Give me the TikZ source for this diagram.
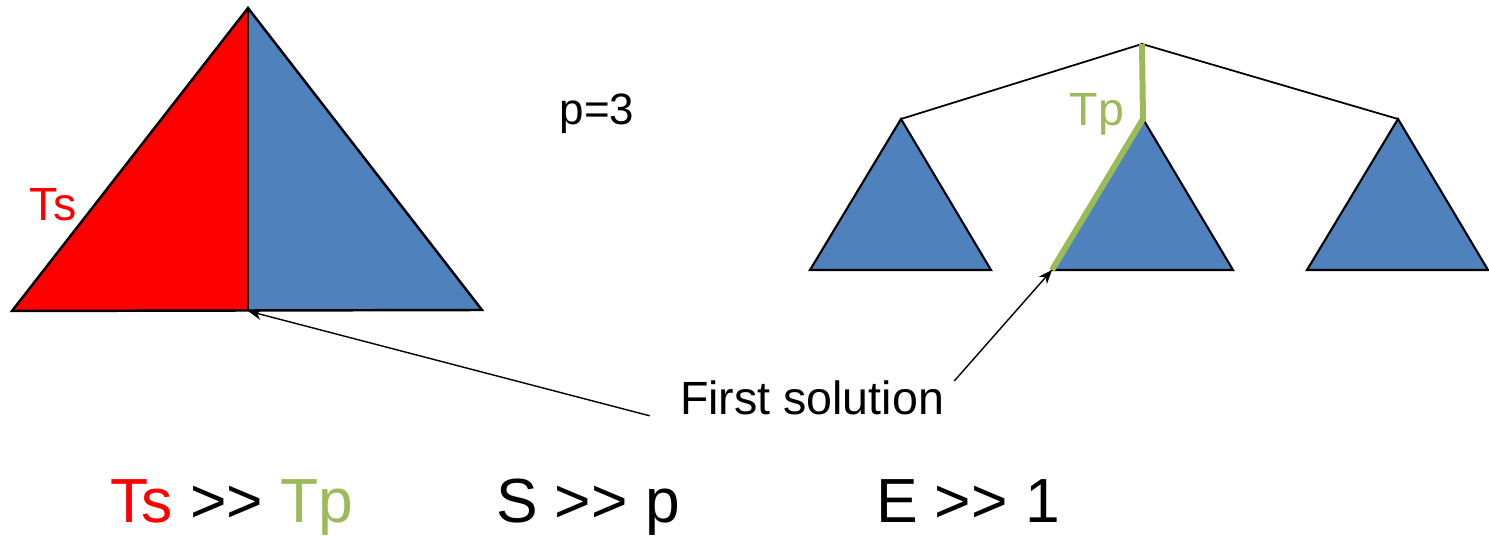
\documentclass[tikz,border=0pt]{standalone}
\usepackage{fontspec}
\setmainfont{Liberation Sans}
\usetikzlibrary{arrows.meta}

\definecolor{tsred}{HTML}{FF0000}
\definecolor{treeblue}{HTML}{4F81BD}
\definecolor{tpgreen}{HTML}{9BBB59}

\begin{document}
\begin{tikzpicture}[
  x=0.02cm, y=-0.02cm,
  every node/.style={inner sep=0pt, anchor=base},
  edge/.style={draw=black, line width=1pt},
  subtree/.style={fill=treeblue, draw=black, line width=1.2pt, line join=miter},
  tpline/.style={draw=tpgreen, line width=3.4pt},
  pointer/.style={-{Stealth[length=0.28cm, width=0.22cm]}, line width=0.8pt},
  midtext/.style={font=\fontsize{26.5}{30}\selectfont},
  bigtext/.style={font=\fontsize{35.5}{40}\selectfont}
]
  \useasboundingbox (0,0) rectangle (1489,536);

  % sequential search tree
  \coordinate (seqtop)   at (248,8);
  \coordinate (seqleft)  at (12,311);
  \coordinate (seqmid)   at (248,311);
  \coordinate (seqright) at (482,310);
  \fill[tsred]    (seqtop) -- (seqleft) -- (seqmid) -- cycle;
  \fill[treeblue] (seqtop) -- (seqmid) -- (seqright) -- cycle;
  \draw[edge, line width=1.4pt, line join=miter] (seqtop) -- (seqleft) -- (seqright) -- cycle;
  \draw[edge, line width=1.4pt] (seqtop) -- (seqmid);
  \node[midtext, text=tsred] (ts) at (53,221) {Ts};

  \node[font=\fontsize{25}{28}\selectfont] (pval) at (597,125) {p=3};

  % parallel search tree
  \coordinate (root) at (1142,44);
  \foreach \nm/\x in {pl/901, pm/1143, pr/1398}{
    \coordinate (\nm-top)   at (\x,119);
    \coordinate (\nm-left)  at (\x-91,270);
    \coordinate (\nm-right) at (\x+90,270);
    \draw[subtree] (\nm-top) -- (\nm-left) -- (\nm-right) -- cycle;
  }
  \draw[edge] (pl-top) -- (root) -- (pr-top);
  \draw[tpline] (root) -- (pm-top) -- (pm-left);
  \node[midtext, text=tpgreen] (tp) at (1097,126) {Tp};

  \node[midtext] (sol) at (812,415) {First solution};
  \draw[pointer] ([xshift=-0.6cm]sol.south west) -- (seqmid);
  \draw[pointer] ([xshift=0.2cm]sol.north east) -- (pm-left);

  \node[bigtext] (cmpt) at (232,523) {\textcolor{tsred}{Ts} >{}> \textcolor{tpgreen}{Tp}};
  \node[bigtext] (cmps) at (588,523) {S >{}> p};
  \node[bigtext] (cmpe) at (968,523) {E >{}> 1};
\end{tikzpicture}
\end{document}
